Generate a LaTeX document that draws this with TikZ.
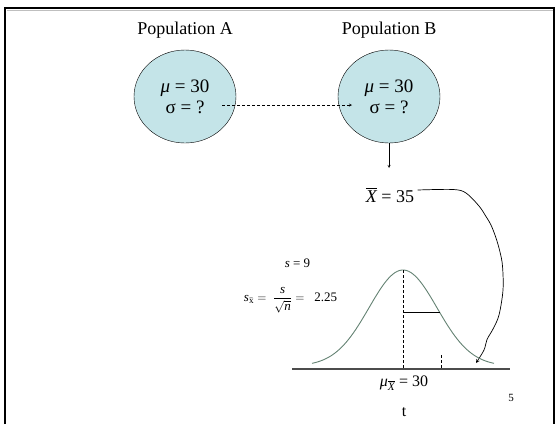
\documentclass[tikz,border=0pt]{standalone}
\usepackage{amsmath}
\usepackage{fontspec}
\setmainfont{Liberation Serif}
\usetikzlibrary{shapes.geometric}
\definecolor{popfill}{RGB}{196,228,232}
\definecolor{bellgreen}{RGB}{100,130,115}

\begin{document}
\begin{tikzpicture}[x=1pt, y=-1pt, >=stealth,
  popnode/.style={ellipse, draw, fill=popfill, minimum width=102pt, minimum height=93pt,
    inner sep=0pt, align=center, font=\fontsize{19}{21}\selectfont},
  poplabel/.style={font=\fontsize{18}{20}\selectfont},
  smalltext/.style={font=\fontsize{13}{15}\selectfont}]
  \useasboundingbox (0,0) rectangle (559,424);
  % slide frame
  \draw[gray!50, line width=1pt] (6.5,10.8) -- (552.5,10.8);
  \draw[line width=2.7pt] (5,424) -- (5,8) -- (554,8) -- (554,424);

  % the two populations
  \node[poplabel] (labA) at (185,30) {Population A};
  \node[poplabel] (labB) at (389,30) {Population B};
  \node[popnode] (popA) at (185,96.5) {{\itshape μ} = 30\\σ = ?};
  \node[popnode] (popB) at (389,96.5) {{\itshape μ} = 30\\σ = ?};
  \coordinate (dashS) at (222,105);
  \coordinate (dashE) at (352,105);
  \draw[->, dash pattern=on 3pt off 2pt] (dashS) -- (dashE);

  % sample mean
  \node[poplabel] (xbar) at (390,195) {$\overline{\text{\itshape X}}$ = 35};
  \coordinate (downE) at (389,168);
  \draw[->] (popB) -- (downE);
  \draw[->, line width=0.7pt] plot[smooth, tension=0.55] coordinates {([yshift=5pt]xbar.east) (453,189.5)
    (466,193) (479,206) (486,216.5) (491,225) (496,238) (500,252) (502.5,266) (503,290)
    (499,315) (493,329) (487,339.5) (484,350) (476,363)};

  % sampling distribution
  \draw[bellgreen, line width=0.9pt] plot[domain=312:494, samples=80, smooth]
    (\x, {366 - 96*exp(-((\x-403)^2)/2312)});
  \draw[line width=1.2pt, black!70] (292,369) -- (510,369);
  \draw[dash pattern=on 3pt off 2pt] (403,270) -- (403,369);
  \draw (403,312) -- (440,312);
  \draw[dash pattern=on 3pt off 2pt] (441,355) -- (441,369);

  \node[smalltext] (sval) at (297.5,263) {\textit{s} = 9};
  \node[smalltext] (sxbar) at (290.5,300)
    {$\text{\itshape s}_{\bar{\text{x}}} = \ \dfrac{\text{\itshape s}}{\sqrt{\text{\itshape n}}} = \ \ \text{2.25}$};
  \node[font=\fontsize{16}{18}\selectfont] (mux) at (404,383)
    {$\text{\itshape μ}_{\overline{\text{\itshape X}}}$ = 30};
  \node[font=\fontsize{16}{18}\selectfont] (tlab) at (404,412) {t};
  \node[font=\fontsize{11}{13}\selectfont] (pnum) at (511,398) {5};
\end{tikzpicture}
\end{document}
